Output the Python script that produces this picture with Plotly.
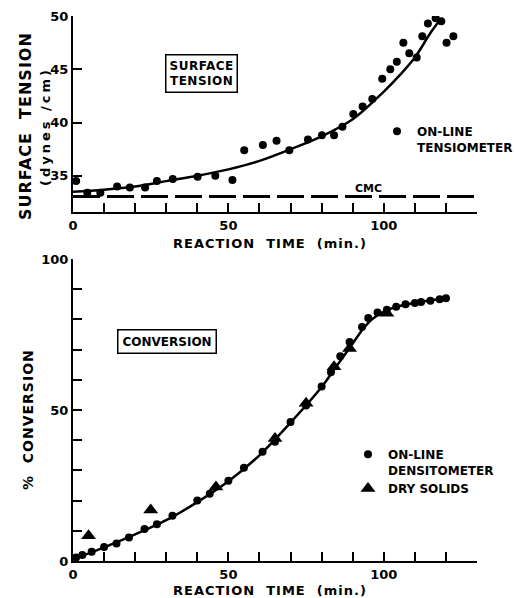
import plotly.graph_objects as go

W, H = 514, 598

# ---- Surface tension during the reaction ----
st_time = [1, 4.6, 8.8, 14.2, 18.3, 23.2, 27, 32.1, 40.1, 45.8, 51.3, 55.1,
           61.1, 65.5, 69.6, 75.6, 80.1, 84.0, 86.7, 90.2, 93.2, 96.3, 99.5,
           102.1, 104.2, 106.3, 108.2, 110.6, 112.4, 114.2, 116.7, 118.5,
           120.2, 122.4]
st_value = [34.5, 33.4, 33.4, 34.0, 33.9, 33.9, 34.5, 34.7, 34.9, 35.0, 34.6,
            37.4, 37.9, 38.3, 37.4, 38.4, 38.8, 38.8, 39.6, 40.8, 41.5, 42.2,
            44.1, 45.0, 45.7, 47.5, 46.5, 46.1, 48.1, 49.3, 49.8, 49.5, 47.5,
            48.1]
st_fit_time = [0, 10, 20, 30, 40, 50, 60, 70, 80, 90, 100, 105, 110, 115, 118]
st_fit_value = [33.5, 33.7, 34.0, 34.5, 35.0, 35.6, 36.4, 37.5, 38.7, 40.3,
                42.9, 44.4, 46.1, 48.4, 49.6]
cmc_value = 33.06
time_span = [0, 130]

# ---- Conversion during the reaction ----
dens_time = [1, 3, 6, 10, 14, 18, 23, 27, 32, 40, 44, 50, 55, 61, 65, 70, 75,
             80, 83, 86, 89, 93, 95, 98, 101, 104, 107, 110, 112, 115, 118, 120]
dens_value = [1.2, 2.0, 3.1, 4.6, 5.8, 7.8, 10.6, 12.2, 15.0, 20.0, 22.3,
              26.6, 30.9, 36.2, 39.5, 46.0, 51.5, 57.8, 62.5, 67.8, 72.5,
              77.5, 80.5, 82.3, 83.2, 84.2, 85.0, 85.4, 85.8, 86.2, 86.7, 87.0]
solids_time = [5, 25, 46, 65, 75, 84, 89, 101]
solids_value = [8.4, 16.9, 24.5, 40.6, 52.2, 64.3, 70.4, 82.0]
conv_fit_time = [0, 10, 20, 30, 40, 50, 60, 70, 80, 85, 90, 93, 96, 100, 105,
                 110, 120]
conv_fit_value = [0.5, 4.5, 8.8, 13.5, 19.5, 26.4, 35.0, 45.8, 57.6, 64.8,
                  72.0, 76.4, 79.9, 82.6, 84.4, 85.5, 87.0]

x_ticks = list(range(0, 131, 10))
x_text = ["0" if v == 0 else "50" if v == 50 else "100" if v == 100 else "" for v in x_ticks]
st_ticks = [35, 40, 45, 50]
conv_ticks = list(range(0, 101, 10))
conv_text = [str(v) if v in (0, 50, 100) else "" for v in conv_ticks]

FONT = "DejaVu Sans"
ink = "black"


def px_x(p):
    return p / W


def px_y(p):
    return 1 - p / H


def bold(size):
    return dict(family=FONT, size=size, color=ink, weight="bold")


def spaced(text, gap):
    return f'<span style="letter-spacing:{gap}px">{text}</span>'


fig = go.Figure()

# top panel
fig.add_trace(go.Scatter(x=time_span, y=[cmc_value, cmc_value], mode="lines",
                         line=dict(color=ink, width=3, dash="27px,7px"),
                         showlegend=False, xaxis="x", yaxis="y"))
fig.add_trace(go.Scatter(x=st_fit_time, y=st_fit_value, mode="lines",
                         line=dict(color=ink, width=2.5, shape="spline"),
                         showlegend=False, xaxis="x", yaxis="y"))
fig.add_trace(go.Scatter(x=st_time, y=st_value, mode="markers",
                         marker=dict(color=ink, size=8),
                         name="ON-LINE<br>TENSIOMETER", legend="legend",
                         xaxis="x", yaxis="y"))

# bottom panel
fig.add_trace(go.Scatter(x=conv_fit_time, y=conv_fit_value, mode="lines",
                         line=dict(color=ink, width=2.5, shape="spline",
                                   smoothing=0.8),
                         showlegend=False, xaxis="x2", yaxis="y2"))
fig.add_trace(go.Scatter(x=dens_time, y=dens_value, mode="markers",
                         marker=dict(color=ink, size=8),
                         name="ON-LINE<br>DENSITOMETER", legend="legend2",
                         xaxis="x2", yaxis="y2"))
fig.add_trace(go.Scatter(x=solids_time, y=solids_value, mode="markers",
                         marker=dict(color=ink, size=13, symbol="triangle-up"),
                         name="DRY SOLIDS", legend="legend2",
                         xaxis="x2", yaxis="y2"))

axis_common = dict(showline=True, linecolor=ink, linewidth=2, ticks="inside",
                   ticklen=9, tickwidth=2, tickcolor=ink, showgrid=False,
                   zeroline=False, mirror=False, tickfont=bold(13))

x_dom = [px_x(73), px_x(477)]
fig.update_layout(
    width=W, height=H,
    margin=dict(l=0, r=0, t=0, b=0, autoexpand=False),
    paper_bgcolor="white", plot_bgcolor="white",
    xaxis=dict(domain=x_dom, range=time_span, tickvals=x_ticks, ticktext=x_text,
               anchor="y", **axis_common),
    yaxis=dict(domain=[px_y(212), px_y(16)], range=[31.6, 50], tickvals=st_ticks,
               anchor="x", **axis_common),
    xaxis2=dict(domain=x_dom, range=time_span, tickvals=x_ticks, ticktext=x_text,
                anchor="y2", **axis_common),
    yaxis2=dict(domain=[px_y(561), px_y(259)], range=[0, 100], tickvals=conv_ticks,
                ticktext=conv_text, anchor="x2", **axis_common),
    legend=dict(x=px_x(377), y=px_y(117), xanchor="left", yanchor="top",
                valign="top", bgcolor="rgba(0,0,0,0)", font=bold(12)),
    legend2=dict(x=px_x(348), y=px_y(440), xanchor="left", yanchor="top",
                 valign="top", bgcolor="rgba(0,0,0,0)", tracegroupgap=0,
                 font=bold(12)),
)

ann = [
    dict(text=spaced("REACTION  TIME  (min.)", 1), x=px_x(270), y=px_y(243),
         font=bold(13)),
    dict(text=spaced("REACTION  TIME  (min.)", 1), x=px_x(270), y=px_y(590),
         font=bold(13)),
    dict(text=spaced("SURFACE  TENSION", 1), x=px_x(26), y=px_y(126),
         textangle=-90, font=bold(16)),
    dict(text=spaced("(dynes /cm)", 3), x=px_x(46), y=px_y(127), textangle=-90,
         font=bold(13)),
    dict(text=spaced("%  CONVERSION", 1), x=px_x(28), y=px_y(420),
         textangle=-90, font=bold(14)),
    dict(text=spaced("SURFACE<br>TENSION", 0.5), x=px_x(201), y=px_y(73),
         bordercolor=ink, borderwidth=1.5, borderpad=3, bgcolor="white",
         font=bold(12)),
    dict(text="CONVERSION", x=px_x(167), y=px_y(342),
         bordercolor=ink, borderwidth=1.5, borderpad=4, bgcolor="white",
         font=bold(12)),
    dict(text="CMC", x=px_x(368), y=px_y(188), font=bold(11)),
]
for a in ann:
    fig.add_annotation(xref="paper", yref="paper", showarrow=False,
                       xanchor="center", yanchor="middle", **a)

fig.write_html("out.html")
